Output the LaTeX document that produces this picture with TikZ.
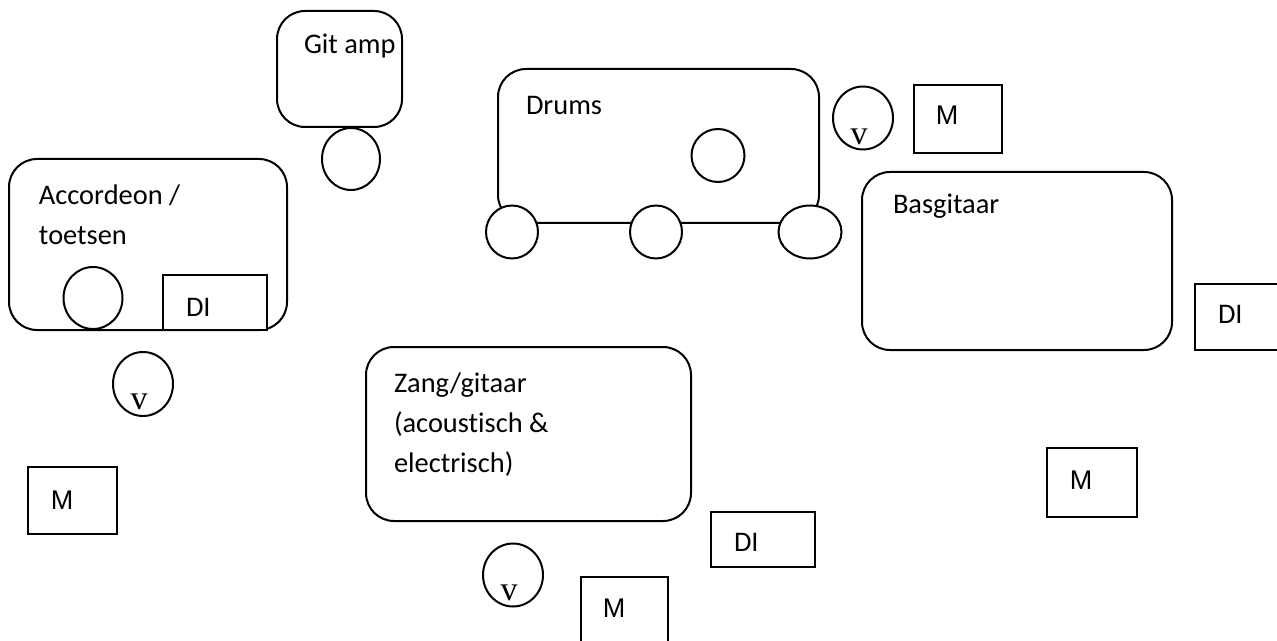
\documentclass[tikz,border=0pt]{standalone}
\usepackage{fontspec}
\setmainfont{Carlito}[Ligatures=CommonOff]
\newfontfamily\msans{Liberation Sans}
\newfontfamily\vserif{Liberation Serif}
\usetikzlibrary{shapes.geometric}
\begin{document}
\begin{tikzpicture}[x=0.5pt,y=-0.5pt,
  every node/.style={line width=1pt},
  stage/.style={draw,rectangle,rounded corners=14pt,inner sep=0pt},
  mic/.style={draw,ellipse,fill=white,inner sep=0pt},
  box/.style={draw,rectangle,fill=white,inner sep=0pt},
  lbl/.style={anchor=base west,inner sep=0pt,align=left,font=\fontsize{14.2}{20}\selectfont},
  mlbl/.style={inner sep=0pt,font=\msans\fontsize{13.5}{15}\selectfont},
  vlbl/.style={inner sep=0pt,font=\vserif\fontsize{17}{20}\selectfont}]
\useasboundingbox (0,0) rectangle (1277,641);
% Git amp
\node[stage,minimum width=62.5pt,minimum height=58pt] (gitamp) at (339.5,69) {};
\node[lbl] (gitampt) at (303,54) {Git amp};
\node[mic,minimum width=29pt,minimum height=31pt] (gitmic) at (351,159) {};
% Drums
\node[stage,minimum width=160.5pt,minimum height=77pt] (drums) at (658.5,146) {};
\node[lbl] (drumst) at (525,115) {Drums};
\node[mic,minimum width=26.5pt,minimum height=26.5pt] (dr0) at (718,155.5) {};
\node[mic,minimum width=26pt,minimum height=26.5pt] (dr1) at (512,232) {};
\node[mic,minimum width=26pt,minimum height=26.5pt] (dr2) at (656,232) {};
\node[mic,minimum width=31.5pt,minimum height=26.5pt] (dr3) at (810,232) {};
% Drums monitor
\node[mic,minimum width=30pt,minimum height=31.5pt] (vdr) at (863,118) {};
\node[vlbl] (vdrt) at (859,137) {v};
\node[box,minimum width=44pt,minimum height=34pt] (mdr) at (958,119) {};
\node[mlbl] (mdrt) at (947,115) {M};
% Accordeon
\node[stage,minimum width=139pt,minimum height=85.5pt] (acc) at (148,244.5) {};
\node[lbl] (acct) at (38,245) {Accordeon /\\toetsen};
\node[mic,minimum width=29.5pt,minimum height=31pt] (accmic) at (93,298) {};
\node[box,minimum width=52pt,minimum height=27.5pt] (accdi) at (215,302.5) {};
\node[lbl] (accdit) at (185,316) {DI};
\node[mic,minimum width=30pt,minimum height=32pt] (vacc) at (143,384) {};
\node[vlbl] (vacct) at (139,402) {v};
\node[box,minimum width=44.5pt,minimum height=33.5pt] (macc) at (72.5,500.5) {};
\node[mlbl] (macct) at (62,500) {M};
% Basgitaar
\node[stage,minimum width=155pt,minimum height=89pt] (bas) at (1017,261) {};
\node[lbl] (bast) at (892,214) {Basgitaar};
\node[box,minimum width=50pt,minimum height=33pt] (basdi) at (1245,317) {};
\node[lbl] (basdit) at (1217,323) {DI};
\node[box,minimum width=45pt,minimum height=34.5pt] (mbas) at (1092,482.5) {};
\node[mlbl] (mbast) at (1081,480) {M};
% Zang/gitaar
\node[stage,minimum width=162.5pt,minimum height=87pt] (zang) at (528.5,434) {};
\node[lbl] (zangt) at (393,472) {Zang/gitaar\\(acoustisch \&\\electrisch)};
\node[box,minimum width=52pt,minimum height=27.5pt] (zangdi) at (763,539.5) {};
\node[lbl] (zangdit) at (733,551) {DI};
\node[mic,minimum width=30pt,minimum height=31.5pt] (vzang) at (513,575) {};
\node[vlbl] (vzangt) at (509,593) {v};
\node[box,minimum width=43.5pt,minimum height=34pt] (mzang) at (624.5,611) {};
\node[mlbl] (mzangt) at (614,608) {M};
\end{tikzpicture}
\end{document}
